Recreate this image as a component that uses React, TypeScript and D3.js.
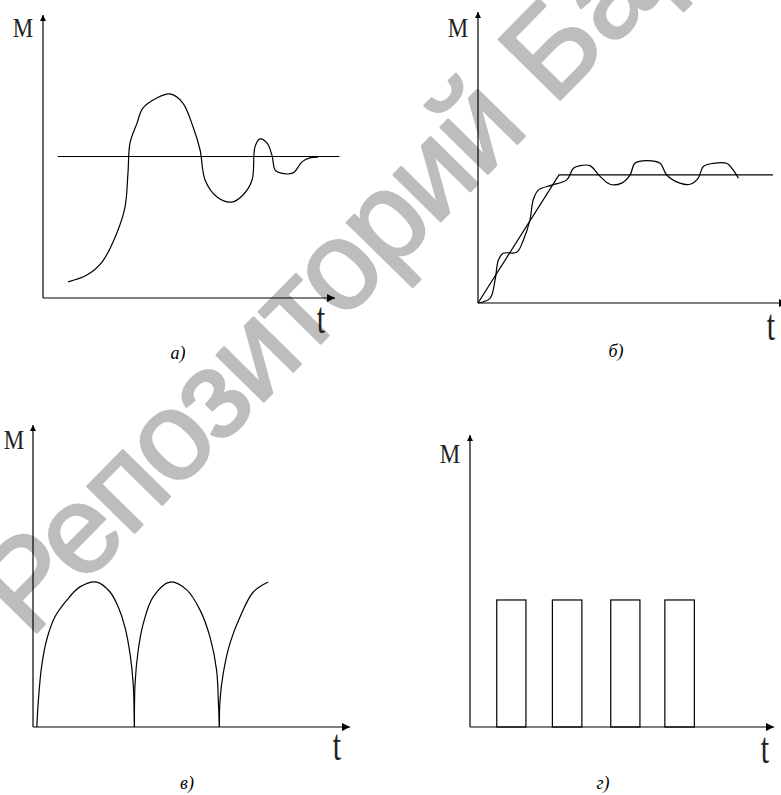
import React from "react";
import * as d3 from "d3";

// а) — переходный процесс с колебаниями вокруг установившегося значения
const curveA: [number, number][] = [
  [0.86, 0.57], [1.5, 0.81], [2.02, 1.27], [2.53, 2.3], [2.81, 3.22], [2.91, 4.42],
  [2.98, 5.48], [3.22, 6.18], [3.42, 6.71], [3.9, 7.07], [4.35, 7.21], [4.79, 6.89],
  [5.14, 6.04], [5.38, 5.23], [5.55, 4.17], [5.96, 3.57], [6.47, 3.39], [6.85, 3.64],
  [7.16, 4.17], [7.26, 5.34], [7.43, 5.62], [7.67, 5.48], [7.84, 5.05], [7.95, 4.52],
  [8.12, 4.42], [8.56, 4.42], [8.87, 4.81], [9.14, 4.95], [9.42, 4.98],
];
const levelA: [number, number][] = [[0.5, 5.0], [10.15, 5.0]];

// б) — разгон с пульсациями
const rampB: [number, number][] = [[0, 0], [2.7, 4.4], [9.83, 4.4]];
const waveB: [number, number][] = [
  [0, 0], [0.4, 0.16], [0.57, 0.79], [0.68, 1.48], [0.84, 1.71], [1.29, 1.74],
  [1.51, 2.16], [1.73, 2.85], [1.84, 3.54], [2.01, 3.88], [2.46, 4.05], [2.96, 4.23],
  [3.18, 4.63], [3.4, 4.72], [3.73, 4.72], [4.07, 4.35], [4.4, 4.08], [4.79, 4.12],
  [5.07, 4.4], [5.23, 4.8], [5.62, 4.89], [6.07, 4.8], [6.29, 4.4], [6.73, 4.12],
  [7.07, 4.08], [7.34, 4.29], [7.51, 4.69], [7.84, 4.8], [8.29, 4.8], [8.51, 4.57],
  [8.68, 4.29],
];

// в) — пульсирующий момент (полуволны)
const archV1: [number, number][] = [
  [0.12, 0], [0.17, 0.89], [0.27, 1.99], [0.43, 2.88], [0.69, 3.64], [1.06, 4.19],
  [1.48, 4.64], [2.01, 4.8], [2.43, 4.47], [2.69, 3.97], [2.9, 3.31], [3.06, 2.43],
  [3.16, 1.44], [3.2, 0],
];
const archV2: [number, number][] = [
  [3.2, 0], [3.22, 1.44], [3.32, 2.55], [3.48, 3.43], [3.79, 4.31], [4.32, 4.8],
  [4.85, 4.54], [5.27, 3.87], [5.58, 2.99], [5.79, 1.89], [5.85, 0.78], [5.88, 0],
];
const archV3: [number, number][] = [
  [5.88, 0], [5.9, 0.89], [6.0, 1.77], [6.21, 2.76], [6.53, 3.64], [6.95, 4.47], [7.42, 4.8],
];

// г) — прямоугольные импульсы
const pulseStart = [0.88, 2.71, 4.63, 6.41];
const pulseEnd = [1.84, 3.68, 5.59, 7.38];
const pulseLevel = 4.35;

const captions = ["а)", "б)", "в)", "г)"];

type Panel = {
  xr: [number, number];
  yr: [number, number];
  xEnd: number;
  m: [number, number];
  t: [number, number];
  cap: [number, number];
};

const layout: Panel[] = [
  { xr: [43, 335], yr: [298, 15], xEnd: 10, m: [23, 37], t: [321, 333], cap: [178, 359] },
  { xr: [478, 778], yr: [303, 12], xEnd: 10.3, m: [458, 37], t: [771, 340], cap: [616, 357] },
  { xr: [33, 350], yr: [727, 425], xEnd: 10, m: [14, 449], t: [337, 760], cap: [187, 789] },
  { xr: [470, 774], yr: [727, 435], xEnd: 10, m: [450, 463], t: [765, 763], cap: [603, 789] },
];

const line = (x: d3.ScaleLinear<number, number>, y: d3.ScaleLinear<number, number>, smooth = true) =>
  d3
    .line<[number, number]>()
    .x((d) => x(d[0]))
    .y((d) => y(d[1]))
    .curve(smooth ? d3.curveCatmullRom.alpha(0.5) : d3.curveLinear);

function Axes({ p, i }: { p: Panel; i: number }) {
  const x = d3.scaleLinear().domain([0, 10]).range(p.xr);
  const y = d3.scaleLinear().domain([0, 10]).range(p.yr);
  return (
    <g>
      <line x1={x(0)} y1={y(0)} x2={x(p.xEnd)} y2={y(0)} stroke="#000" strokeWidth={1.2} markerEnd="url(#arr)" />
      <line x1={x(0)} y1={y(0)} x2={x(0)} y2={y(10)} stroke="#000" strokeWidth={1.2} markerEnd="url(#arrS)" />
      <text x={p.m[0]} y={p.m[1]} textAnchor="middle" fontFamily="Liberation Serif" fontSize={27}
        fill="#222" transform={`translate(${p.m[0]},0) scale(0.85,1) translate(${-p.m[0]},0)`}>M</text>
      <text textAnchor="middle" fontFamily="Liberation Serif" fontSize={30} fill="#222"
        transform={`translate(${p.t[0]},${p.t[1]}) scale(1,1.5)`}>t</text>
      <text x={p.cap[0]} y={p.cap[1]} textAnchor="middle" fontFamily="Liberation Serif" fontStyle="italic"
        fontSize={18} fill="#000">{captions[i]}</text>
    </g>
  );
}

export default function App() {
  const sc = layout.map((p) => ({
    x: d3.scaleLinear().domain([0, 10]).range(p.xr),
    y: d3.scaleLinear().domain([0, 10]).range(p.yr),
  }));
  const [a, b, v, g] = sc;
  const stroke = { fill: "none", stroke: "#000", strokeWidth: 1.2 };

  return (
    <svg width={781} height={795} style={{ position: "absolute", left: 0, top: 0, background: "#fff" }}>
      <defs>
        <marker id="arr" markerUnits="userSpaceOnUse" markerWidth={9} markerHeight={9} refX={8} refY={4} orient="auto">
          <path d="M0,0 L8,4 L0,8 z" fill="#000" />
        </marker>
        <marker id="arrS" markerUnits="userSpaceOnUse" markerWidth={7} markerHeight={7} refX={6} refY={3} orient="auto">
          <path d="M0,0 L6,3 L0,6 z" fill="#000" />
        </marker>
      </defs>

      {/* водяной знак */}
      <g transform="translate(553,107) rotate(-45.5)" fontFamily="Liberation Sans" fontSize={125}
        fill="#bdbdbd" stroke="#bdbdbd" strokeWidth={2.5} strokeLinejoin="round">
        <text x={-35} y={0} textAnchor="end" letterSpacing={-3}>Репозиторий</text>
        <text x={0} y={0} textAnchor="start">БарГУ</text>
      </g>

      {layout.map((p, i) => (
        <Axes key={i} p={p} i={i} />
      ))}

      {/* а */}
      <path d={line(a.x, a.y, false)(levelA) ?? ""} {...stroke} />
      <path d={line(a.x, a.y)(curveA) ?? ""} {...stroke} />

      {/* б */}
      <path d={line(b.x, b.y, false)(rampB) ?? ""} {...stroke} />
      <path d={line(b.x, b.y)(waveB) ?? ""} {...stroke} />

      {/* в */}
      {[archV1, archV2, archV3].map((arch, i) => (
        <path key={i} d={line(v.x, v.y)(arch) ?? ""} {...stroke} />
      ))}

      {/* г */}
      {pulseStart.map((s, i) => (
        <rect key={i} x={g.x(s)} y={g.y(pulseLevel)} width={g.x(pulseEnd[i]) - g.x(s)}
          height={g.y(0) - g.y(pulseLevel)} {...stroke} />
      ))}
    </svg>
  );
}
